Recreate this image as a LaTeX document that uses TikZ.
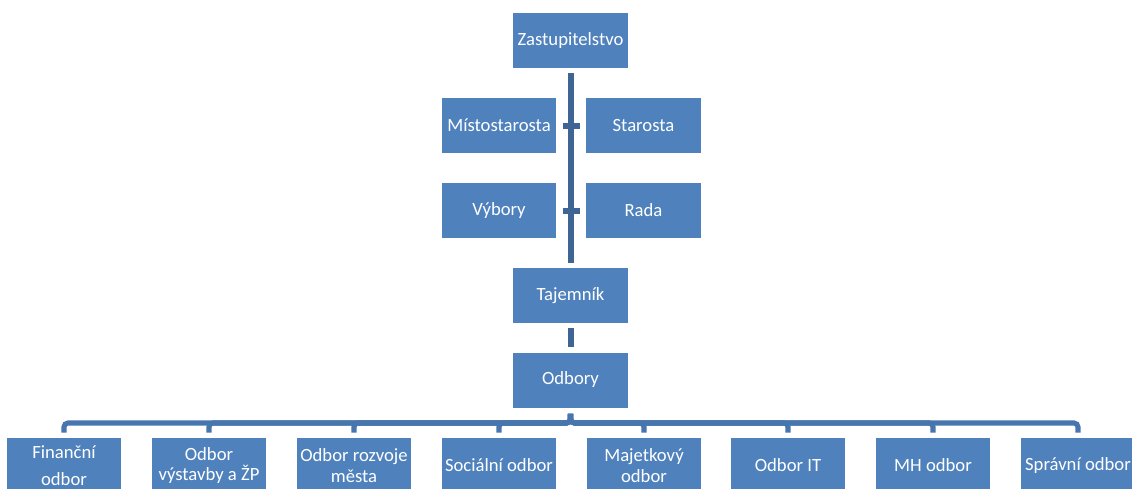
\documentclass[tikz,border=0pt]{standalone}
\usepackage{fontspec}
\setmainfont{Carlito}
\definecolor{boxblue}{HTML}{4F81BD}
\definecolor{linedark}{HTML}{3E6593}
\definecolor{linebus}{HTML}{4775AD}
\begin{document}
\begin{tikzpicture}[x=0.75pt,y=-0.75pt,
  box/.style={draw=none,fill=boxblue,text=white,minimum width=86pt,minimum height=41.25pt,
    inner sep=0pt,align=center,font=\fontsize{14}{15.5}\selectfont},
  trunk/.style={draw=linedark,line width=4.5pt},
  bus/.style={draw=linebus,line width=3.8pt,rounded corners=3pt}]
\useasboundingbox (0,0) rectangle (1132,489);
\node[box] (zast) at (570.5,40.5) {Zastupitelstvo};
\node[box] (mist) at (499,125.5) {Místostarosta};
\node[box] (star) at (643.5,125.5) {Starosta};
\node[box] (vyb) at (499,210.5) {Výbory};
\node[box] (rada) at (643.5,210.5) {Rada};
\node[box] (taj) at (570.5,295.5) {Tajemník};
\node[box] (odb) at (570.5,380) {Odbory};
\node[box] (b1) at (64,465.5) {Finanční\\[5pt]odbor};
\node[box] (b2) at (209,465.5) {Odbor\\výstavby a ŽP};
\node[box] (b3) at (354,465.5) {Odbor rozvoje\\města};
\node[box] (b4) at (499,465.5) {Sociální odbor};
\node[box] (b5) at (644,465.5) {Majetkový\\odbor};
\node[box] (b6) at (788,465.5) {Odbor IT};
\node[box] (b7) at (933,465.5) {MH odbor};
\node[box] (b8) at (1078,465.5) {Správní odbor};
\coordinate (busy) at (0,423);
% trunk
\draw[trunk,shorten <=3.75pt,shorten >=3.75pt] (zast.south) -- (taj.north);
\draw[trunk,shorten <=4.5pt,shorten >=4.5pt] (mist.east) -- (star.west);
\draw[trunk,shorten <=4.5pt,shorten >=4.5pt] (vyb.east) -- (rada.west);
\draw[trunk,shorten <=3.75pt,shorten >=3.75pt] (taj.south) -- (odb.north);
% bus
\foreach \b in {b1,b2,b3,b4,b5,b6,b7,b8}{
  \draw[bus,shorten <=4.5pt,shorten >=3.75pt] (odb.south) -- (odb.south |- busy) -| (\b.north);
}
\end{tikzpicture}
\end{document}
